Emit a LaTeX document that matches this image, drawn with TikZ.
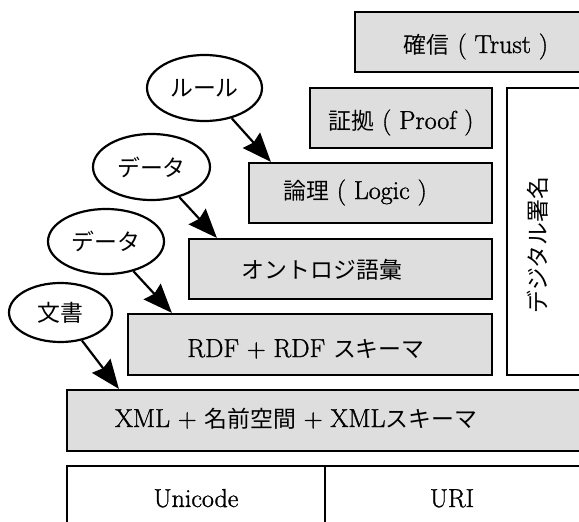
\documentclass[tikz,border=0pt]{standalone}
\usepackage{fontspec}
\setmainfont{Latin Modern Roman}[FakeBold=1.2]
\newfontfamily\jp[Scale=0.88]{Noto Sans CJK JP}
\usetikzlibrary{arrows.meta,shapes.geometric}
\definecolor{layergray}{RGB}{222,222,222}

\begin{document}
\begin{tikzpicture}[x=1pt,y=-1pt,
  layer/.style={draw=black,line width=2.2pt,fill=layergray,rectangle,inner sep=0pt},
  base/.style={draw=black,line width=2.2pt,fill=white,rectangle,inner sep=0pt},
  txt/.style={inner sep=0pt,anchor=base,font=\fontsize{26}{31}\selectfont},
  src/.style={draw=black,line width=2.2pt,ellipse,inner sep=0pt,fill=white,
    font=\fontsize{26}{31}\selectfont\jp},
  feed/.style={line width=2.2pt,-{Stealth[length=29pt,width=23pt,inset=3pt]}}]

\useasboundingbox (0,0) rectangle (579,522);
\clip (0,0) rectangle (579,522);

% layers of the stack
\node[layer,minimum width=245pt,minimum height=60pt] (trust) at (477.5,42) {};
\node[layer,minimum width=182pt,minimum height=60pt] (proof) at (401,118) {};
\node[base, minimum width=93pt, minimum height=287pt] (sig) at (553.5,231.5) {};
\node[layer,minimum width=243pt,minimum height=60pt] (logic) at (370.5,193) {};
\node[layer,minimum width=303pt,minimum height=60pt] (onto) at (340.5,269) {};
\node[layer,minimum width=364pt,minimum height=61pt] (rdf) at (310,344.5) {};
\node[layer,minimum width=533pt,minimum height=61pt] (xml) at (333.5,420.5) {};
\node[base, minimum width=258pt,minimum height=74pt] (unicode) at (196,503) {};
\node[base, minimum width=275pt,minimum height=74pt] (uri) at (462.5,503) {};

% layer captions
\node[txt] (trustT) at (476,53) {{\jp 確信} ( Trust )};
\node[txt] (proofT) at (401,129) {{\jp 証拠} ( Proof )};
\node[txt] (logicT) at (355,199) {{\jp 論理} ( Logic )};
\node[txt] (ontoT) at (322,278) {\jp オントロジ語彙};
\node[txt] (rdfT) at (306,357) {RDF + RDF {\jp スキーマ}};
\node[txt] (xmlT) at (296,427) {XML + {\jp 名前空間} + XML{\jp スキーマ}};
\node[txt] (unicodeT) at (196,507) {Unicode};
\node[txt] (uriT) at (452,507) {URI};
\node[txt,anchor=center,rotate=90] (sigT) at (538,245) {\jp デジタル署名};

% inputs feeding the layers
\node[src,minimum width=115pt,minimum height=66pt] (rule) at (204.5,88) {ルール};
\node[src,minimum width=117pt,minimum height=66pt] (dataA) at (151.5,167) {データ};
\node[src,minimum width=116pt,minimum height=65pt] (dataB) at (106,241.5) {データ};
\node[src,minimum width=103pt,minimum height=59pt] (doc) at (60.5,312.5) {文書};

\draw[feed] (rule) -- ([xshift=23pt]logic.north west);
\draw[feed] (dataA) -- ([xshift=29pt]onto.north west);
\draw[feed] (dataB) -- ([xshift=45pt]rdf.north west);
\draw[feed] (doc) -- ([xshift=53pt]xml.north west);
\end{tikzpicture}
\end{document}
